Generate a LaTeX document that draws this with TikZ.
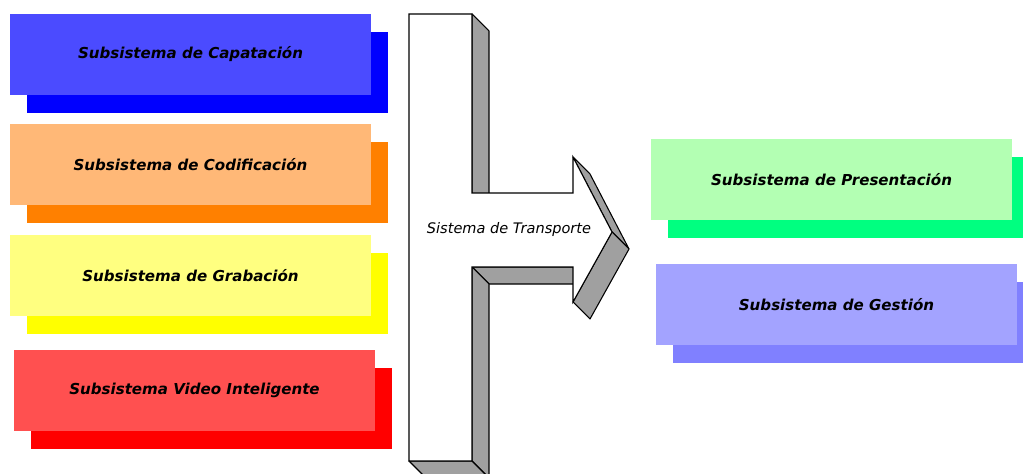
\documentclass[tikz,border=0pt]{standalone}
\usepackage{fontspec}
\setmainfont{DejaVu Sans}
\usetikzlibrary{calc,shadows}

\definecolor{capfront}{HTML}{4B4BFF}
\definecolor{capshade}{HTML}{0000FF}
\definecolor{codfront}{HTML}{FFB877}
\definecolor{codshade}{HTML}{FF8000}
\definecolor{grafront}{HTML}{FFFF80}
\definecolor{grashade}{HTML}{FFFF00}
\definecolor{vidfront}{HTML}{FF5050}
\definecolor{vidshade}{HTML}{FF0000}
\definecolor{prefront}{HTML}{B3FFB3}
\definecolor{preshade}{HTML}{00FF80}
\definecolor{gesfront}{HTML}{A3A3FF}
\definecolor{gesshade}{HTML}{8080FF}
\definecolor{sidegray}{HTML}{A0A0A0}

\begin{document}
\begin{tikzpicture}[x=0.75pt, y=-0.75pt,
    subbox/.style 2 args={fill=#1, inner sep=0pt,
        minimum width=270.75pt, minimum height=60.75pt,
        general shadow={fill=#2, shadow xshift=12.75pt, shadow yshift=-13.5pt},
        font=\fontsize{11.3}{13}\selectfont\bfseries\itshape},
    side/.style={fill=sidegray, draw=black, line width=0.8pt, line join=round}]
    \useasboundingbox (0,0) rectangle (1023,474);

    % subsistemas de entrada
    \node[subbox={capfront}{capshade}] (cap) at (190.5,54.5) {Subsistema de Capatación};
    \node[subbox={codfront}{codshade}] (cod) at (190.5,164.5) {Subsistema de Codificación};
    \node[subbox={grafront}{grashade}] (gra) at (190.5,275.5) {Subsistema de Grabación};
    \node[subbox={vidfront}{vidshade}] (vid) at (194.5,390.5) {Subsistema Video Inteligente};

    % subsistemas de salida
    \node[subbox={prefront}{preshade}] (pre) at (831.5,179.5) {Subsistema de Presentación};
    \node[subbox={gesfront}{gesshade}] (ges) at (836.5,304.5) {Subsistema de Gestión};

    % flecha del sistema de transporte
    \coordinate (A) at (409,14);
    \coordinate (B) at (472,14);
    \coordinate (C) at (472,193);
    \coordinate (D) at (573,193);
    \coordinate (E) at (573,157);
    \coordinate (F) at (612,232);
    \coordinate (G) at (573,302);
    \coordinate (H) at (573,267);
    \coordinate (I) at (472,267);
    \coordinate (J) at (472,461);
    \coordinate (K) at (409,461);

    \foreach \p/\q in {B/C,H/I,I/J,J/K,E/F,F/G}
        \draw[side] (\p) -- (\q) -- ($(\q)+(17,17)$) -- ($(\p)+(17,17)$) -- cycle;

    \draw[fill=white, line width=0.8pt]
        (A) -- (B) -- (C) -- (D) -- (E) -- (F) -- (G) -- (H) -- (I) -- (J) -- (K) -- cycle;

    \node[font=\fontsize{10.9}{13}\selectfont\itshape] (trans) at (509,229) {Sistema de Transporte};
\end{tikzpicture}
\end{document}
